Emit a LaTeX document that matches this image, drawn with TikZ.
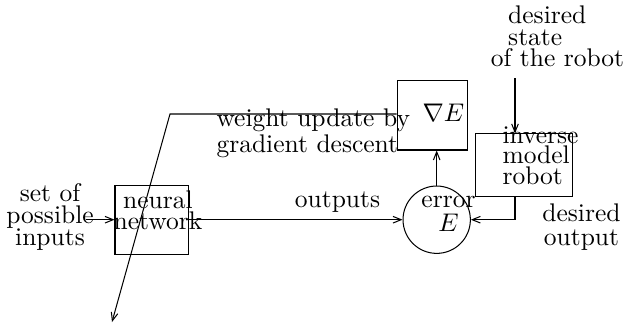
\documentclass[tikz,border=0pt]{standalone}
\usepackage{amsmath,amssymb}
\usetikzlibrary{arrows.meta, positioning}
\begin{document}
\begin{tikzpicture}[x=0.392pt, y=-0.392pt,
  blk/.style={rectangle, draw, line width=0.4pt, inner sep=0pt},
  circ/.style={circle, draw, line width=0.4pt, inner sep=0pt, minimum size=26.4pt},
  lbl/.style={inner sep=0pt, anchor=base, align=center, font=\fontsize{10}{8.6}\selectfont},
  arr/.style={-{Straight Barb[length=3.2pt,width=2.6pt]}, line width=0.4pt}
]
\useasboundingbox (0,0) rectangle (629,329);
%% Blocks
\node[blk, minimum width=29pt, minimum height=26.9pt] (nn) at (152,219.7) {};
\node[blk, minimum width=27.8pt, minimum height=27.2pt] (grad) at (432.5,115.3) {};
\node[blk, minimum width=38pt, minimum height=24.6pt] (inv) at (524.2,165.3) {};
\node[circ] (err) at (436.7,219.7) {};
%% Texts (anchored on the baseline of the last line)
\node[lbl] (tin) at (50,245) {set of\\possible\\inputs};
\node[lbl, font=\fontsize{10}{8.2}\selectfont] (tnn) at (158,229) {neural\\network};
\node[lbl] (tout) at (337.5,207) {outputs};
\node[lbl, anchor=base west, align=left, font=\fontsize{10}{5.9}\selectfont] (twu) at (216,152)
  {weight update by\\gradient descent};
\node[lbl] (tgrad) at (443.5,121.7) {$\nabla E$};
\node[lbl, anchor=base west, align=left, font=\fontsize{10}{6.4}\selectfont] (tinv) at (502,184.3)
  {inverse\\model\\robot};
\node[lbl, font=\fontsize{10}{9.3}\selectfont] (terr) at (448.5,231.7) {error\\$E$};
\node[lbl, font=\fontsize{10}{9.1}\selectfont] (tdo) at (581.5,245) {desired\\output};
\node[lbl, anchor=base west, align=left] (tds) at (507.7,45) {desired\\state};
\node[lbl] (tdr) at (557.5,66.7) {of the robot};
%% Connectors
\coordinate (cin) at (86,219.7);
\coordinate (cds) at (515,78);
\coordinate (cbend) at (170,114);
\coordinate (cdown) at (112,322);
\draw[arr] (cin) -- (nn.west);
\draw[arr] (nn.east) -- (err.west);
\draw[arr] (err.north) -- (err.north |- grad.south);
\draw[arr] (cds) -- (cds |- inv.north);
\draw[arr] (cds |- inv.south) -- (cds |- err.east) -- (err.east);
\draw[arr] (grad.west |- cbend) -- (cbend) -- (cdown);
\end{tikzpicture}
\end{document}
